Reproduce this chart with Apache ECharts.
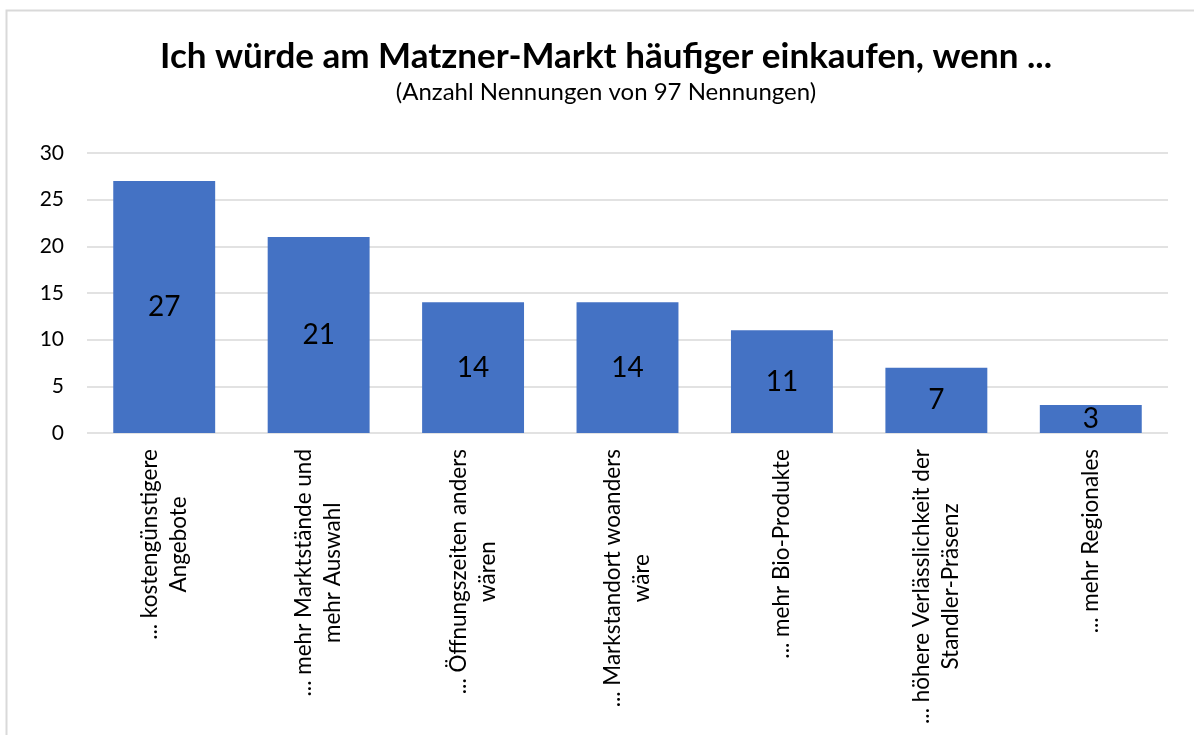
<!DOCTYPE html>
<html>
<head>
<meta charset="utf-8">
<script src="https://cdn.jsdelivr.net/npm/echarts@6/dist/echarts.min.js"></script>
<style>
    html, body { margin: 0; padding: 0; background: #fff; }
    #chart { width: 1194px; height: 735px; }
</style>
</head>
<body>
<div id="chart"></div>
<script>
// Antworten (jeweils zwei Zeilen, wie im Original umbrochen)
const categories = [
    ["... kostengünstigere", "Angebote"],
    ["... mehr Marktstände und", "mehr Auswahl"],
    ["... Öffnungszeiten anders", "wären"],
    ["... Markstandort woanders", "wäre"],
    ["... mehr Bio-Produkte"],
    ["... höhere Verlässlichkeit der", "Standler-Präsenz"],
    ["... mehr Regionales"]
];
const counts = [27, 21, 14, 14, 11, 7, 3];
const yTicks = [0, 5, 10, 15, 20, 25, 30];

const titleText = "Ich würde am Matzner-Markt häufiger einkaufen, wenn ...";
const subtitleText = "(Anzahl Nennungen von 97 Nennungen)";

const font = "Lato, 'Open Sans', sans-serif";
let chart = echarts.init(document.getElementById("chart"), null, { renderer: "canvas" });

chart.setOption({
    backgroundColor: "#fff",
    animation: false,
    graphic: [{
        type: "rect",
        shape: { x: 6.5, y: 10.5, width: 1300, height: 900 },
        style: { fill: "none", stroke: "#d9d9d9", lineWidth: 2 },
        silent: true
    }],
    title: {
        text: titleText,
        subtext: subtitleText,
        left: 601,
        textAlign: "center",
        top: 34,
        itemGap: 6,
        textStyle: {
            fontFamily: font,
            fontSize: 35,
            fontWeight: "bold",
            color: "#000"
        },
        subtextStyle: {
            fontFamily: font,
            fontSize: 24,
            color: "#000"
        }
    },
    grid: {
        left: 87,
        right: 26,
        top: 153,
        bottom: 302
    },
    xAxis: {
        type: "category",
        data: categories.map(c => c.join("\n")),
        axisLine: { show: false },
        axisTick: { show: false },
        axisLabel: {
            rotate: 90,
            interval: 0,
            margin: 16,
            fontFamily: font,
            fontSize: 22.5,
            color: "#000",
            lineHeight: 29,
            formatter: function (value) {
                return value.split("\n").map(s => "{c|" + s + "}").join("\n");
            },
            rich: {
                c: { align: "center", fontFamily: font, fontSize: 22.5, color: "#000", lineHeight: 29 }
            }
        }
    },
    yAxis: {
        type: "value",
        min: yTicks[0],
        max: yTicks[yTicks.length - 1],
        interval: 5,
        axisLine: { show: false },
        axisTick: { show: false },
        splitLine: { lineStyle: { color: "#d9d9d9", width: 1.5 } },
        axisLabel: {
            margin: 23,
            fontFamily: font,
            fontSize: 21,
            color: "#000"
        }
    },
    series: [{
        type: "bar",
        data: counts,
        barWidth: "66%",
        itemStyle: { color: "#4472c4" },
        label: {
            show: true,
            position: "inside",
            fontFamily: font,
            fontSize: 28,
            color: "#000"
        }
    }]
});
</script>
</body>
</html>
